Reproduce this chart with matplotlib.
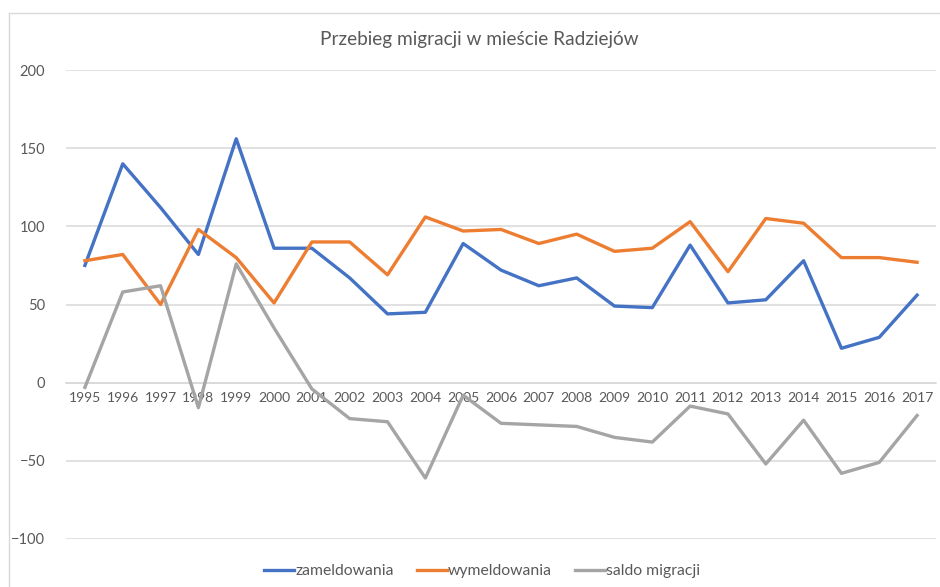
import numpy as np
import matplotlib.pyplot as plt
from matplotlib.lines import Line2D

years = [str(y) for y in range(1995, 2018)]
zameldowania = [75, 140, 112, 82, 156, 86, 86, 67, 44, 45, 89, 72, 62, 67, 49, 48, 88, 51, 53, 78, 22, 29, 56]
wymeldowania = [78, 82, 50, 98, 80, 51, 90, 90, 69, 106, 97, 98, 89, 95, 84, 86, 103, 71, 105, 102, 80, 80, 77]
saldo_migracji = [-3, 58, 62, -16, 76, 35, -4, -23, -25, -61, -8, -26, -27, -28, -35, -38, -15, -20, -52, -24, -58, -51, -21]
series_names = ["zameldowania", "wymeldowania", "saldo migracji"]
colors = ["#4472C4", "#ED7D31", "#A5A5A5"]

plt.rcParams['font.family'] = ['Lato', 'DejaVu Sans']
text_color = "#595959"
grid_color = "#D9D9D9"

fig = plt.figure(figsize=(9.4, 5.87), dpi=100)
ax = fig.add_axes([66 / 940, 1 - 539 / 587, (936 - 66) / 940, (539 - 70) / 587])

x = np.arange(len(years))
for values, name, color in zip([zameldowania, wymeldowania, saldo_migracji], series_names, colors):
    ax.plot(x, values, color=color, linewidth=2.4, label=name, solid_joinstyle="round", zorder=3)

ax.set_xlim(-0.5, len(years) - 0.5)
ax.set_ylim(-100, 200)
ax.set_yticks(range(-100, 201, 50))
ax.yaxis.grid(True, color=grid_color, linewidth=1.1)
ax.set_axisbelow(True)

for side in ["top", "right", "left"]:
    ax.spines[side].set_visible(False)
ax.spines["bottom"].set_position(("data", 0))
ax.spines["bottom"].set_color(grid_color)
ax.spines["bottom"].set_linewidth(1.1)

ax.set_xticks(x)
ax.set_xticklabels(years)
ax.tick_params(axis="x", length=0, pad=7, labelsize=10, labelcolor=text_color)
ax.tick_params(axis="y", length=0, pad=15, labelsize=10.5, labelcolor=text_color)

fig.text(0.51, 1 - 40 / 587, "Przebieg migracji w mieście Radziejów", ha="center", va="center",
         fontsize=13.7, color=text_color)

handles = [Line2D([0], [0], color=c, linewidth=2.4) for c in colors]
fig.legend(handles, series_names, loc="center", bbox_to_anchor=(0.513, 1 - 571 / 587), ncol=3,
           frameon=False, fontsize=11.3, labelcolor=text_color, handlelength=1.9,
           handletextpad=0.1, columnspacing=1.45)

# chart area border (top and left edges visible in the reference)
fig.add_artist(Line2D([9 / 940, 1], [1 - 13 / 587, 1 - 13 / 587], color=grid_color, linewidth=1))
fig.add_artist(Line2D([9 / 940, 9 / 940], [0, 1 - 13 / 587], color=grid_color, linewidth=1))

fig.savefig("out.png", dpi=100)
